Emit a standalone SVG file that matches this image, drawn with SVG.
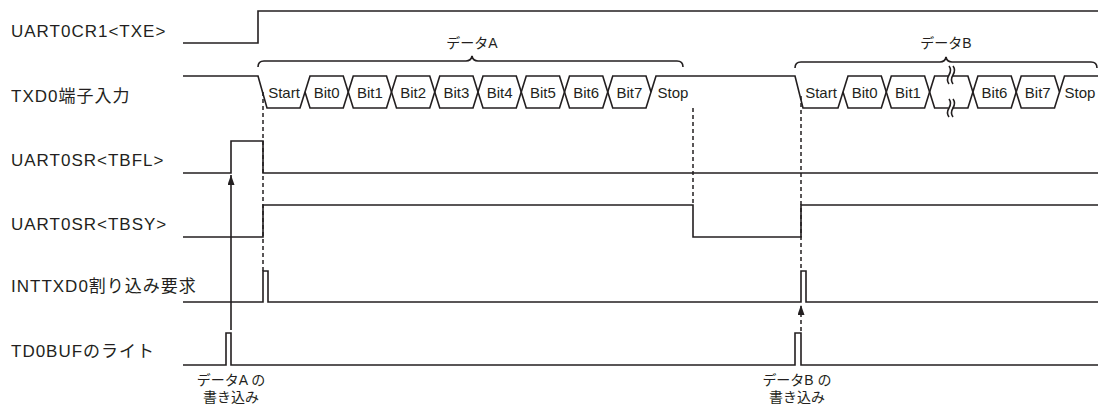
<svg xmlns="http://www.w3.org/2000/svg" width="1098" height="405" viewBox="0 0 1098 405">
<defs>
<style>
.sig{fill:none;stroke:#231f20;stroke-width:1.6;stroke-linejoin:miter}
.lbl{font-family:"Liberation Sans","Noto Sans CJK JP",sans-serif;font-size:17px;fill:#231f20;letter-spacing:1px}
.bit{font-family:"Liberation Sans","Noto Sans CJK JP",sans-serif;font-size:15px;fill:#231f20;text-anchor:middle}
.sm{font-family:"Liberation Sans","Noto Sans CJK JP",sans-serif;font-size:14px;fill:#231f20;text-anchor:middle}
.dash{fill:none;stroke:#231f20;stroke-width:1.5;stroke-dasharray:4 3}
</style>
<marker id="ah" viewBox="0 0 10 7" refX="10" refY="3.5" markerWidth="10" markerHeight="7" markerUnits="userSpaceOnUse" orient="auto">
<path d="M0,0 L10,3.5 L0,7 z" fill="#231f20"/>
</marker>
</defs>
<rect width="1098" height="405" fill="#fff"/>

<g id="txe">
<text class="lbl" x="11" y="37">UART0CR1&lt;TXE&gt;</text>
<path class="sig" d="M183,43 H258 V11 H1098"/>
</g>

<g id="txd0">
<text class="lbl" x="11" y="102">TXD0端子入力</text>
<path class="sig" d="M183,76 H258 L267,108 H300 L305,92"/>
<path class="sig" d="M305,92 L310,76 H343.25 L348.25,92 L343.25,108 H310 Z"/>
<path class="sig" d="M348.25,92 L353.25,76 H386.5 L391.5,92 L386.5,108 H353.25 Z"/>
<path class="sig" d="M391.5,92 L396.5,76 H429.75 L434.75,92 L429.75,108 H396.5 Z"/>
<path class="sig" d="M434.75,92 L439.75,76 H473 L478,92 L473,108 H439.75 Z"/>
<path class="sig" d="M478,92 L483,76 H516.25 L521.25,92 L516.25,108 H483 Z"/>
<path class="sig" d="M521.25,92 L526.25,76 H559.5 L564.5,92 L559.5,108 H526.25 Z"/>
<path class="sig" d="M564.5,92 L569.5,76 H602.75 L607.75,92 L602.75,108 H569.5 Z"/>
<path class="sig" d="M607.75,92 L612.75,76 H646 L651,92 L646,108 H612.75 Z"/>
<path class="sig" d="M651,92 L656,76 H795 L803,108 H838 L843,92"/>
<path class="sig" d="M843,92 L848,76 H881.3 L886.3,92 L881.3,108 H848 Z"/>
<path class="sig" d="M886.3,92 L891.3,76 H924.6 L929.6,92 L924.6,108 H891.3 Z"/>
<path class="sig" d="M929.6,92 L934.6,76 H967.9 L972.9,92 L967.9,108 H934.6 Z"/>
<path class="sig" d="M972.9,92 L977.9,76 H1011.2 L1016.2,92 L1011.2,108 H977.9 Z"/>
<path class="sig" d="M1016.2,92 L1021.2,76 H1054.5 L1059.5,92 L1054.5,108 H1021.2 Z"/>
<path class="sig" d="M1059.5,92 L1064.5,76 H1098"/>
<rect x="948.5" y="70" width="4" height="10" fill="#fff"/>
<rect x="948.5" y="103" width="4" height="10" fill="#fff"/>
<path class="sig" stroke-width="1.3" d="M949,66 q3,4 0,9 q-3,5 0,9 M953,66 q3,4 0,9 q-3,5 0,9"/>
<path class="sig" stroke-width="1.3" d="M949,99 q3,4 0,9 q-3,5 0,9 M953,99 q3,4 0,9 q-3,5 0,9"/>
<text class="bit" x="284" y="98">Start</text>
<text class="bit" x="326.6" y="98">Bit0</text>
<text class="bit" x="369.9" y="98">Bit1</text>
<text class="bit" x="413.1" y="98">Bit2</text>
<text class="bit" x="456.4" y="98">Bit3</text>
<text class="bit" x="499.6" y="98">Bit4</text>
<text class="bit" x="542.9" y="98">Bit5</text>
<text class="bit" x="586.1" y="98">Bit6</text>
<text class="bit" x="629.4" y="98">Bit7</text>
<text class="bit" x="673" y="98">Stop</text>
<text class="bit" x="821" y="98">Start</text>
<text class="bit" x="864.6" y="98">Bit0</text>
<text class="bit" x="908" y="98">Bit1</text>
<text class="bit" x="994.5" y="98">Bit6</text>
<text class="bit" x="1037.8" y="98">Bit7</text>
<text class="bit" x="1080" y="98">Stop</text>
</g>

<g id="dataA">
<path class="sig" stroke-width="1.4" d="M258,67 Q258,61 264,61 H466 Q471,61 472,56 Q473,61 478,61 H677 Q683,61 683,67"/>
<text class="sm" x="472" y="48">データA</text>
</g>
<g id="dataB">
<path class="sig" stroke-width="1.4" d="M795,68 Q795,62 801,62 H940 Q945,62 946,57 Q947,62 952,62 H1091 Q1097,62 1097,68"/>
<text class="sm" x="946" y="48">データB</text>
</g>

<g id="tbfl">
<text class="lbl" x="11" y="166">UART0SR&lt;TBFL&gt;</text>
<path class="sig" d="M183,173 H231 V141 H263 V173 H1098"/>
</g>

<g id="tbsy">
<text class="lbl" x="11" y="230">UART0SR&lt;TBSY&gt;</text>
<path class="sig" d="M183,237 H263 V205 H693 V237 H801 V205 H1098"/>
</g>

<g id="inttxd0">
<text class="lbl" x="11" y="292">INTTXD0割り込み要求</text>
<path class="sig" d="M183,302 H263 V271 H268 V302 H801 V271 H806 V302 H1098"/>
</g>

<g id="td0buf">
<text class="lbl" x="11" y="357">TD0BUFのライト</text>
<path class="sig" d="M183,365 H226 V333 H231 V365 H795 V333 H801 V365 H1098"/>
<text class="sm" x="231" y="385">データA の</text>
<text class="sm" x="231" y="402">書き込み</text>
<text class="sm" x="797" y="385">データB の</text>
<text class="sm" x="797" y="402">書き込み</text>
</g>

<g id="connectors">
<line class="dash" x1="263" y1="92" x2="263" y2="271"/>
<line class="dash" x1="693" y1="108" x2="693" y2="205"/>
<line class="dash" x1="801" y1="96" x2="801" y2="269"/>
<line class="sig" x1="231" y1="330" x2="231" y2="175" marker-end="url(#ah)"/>
<line class="dash" x1="801" y1="331" x2="801" y2="305" marker-end="url(#ah)"/>
</g>
</svg>
